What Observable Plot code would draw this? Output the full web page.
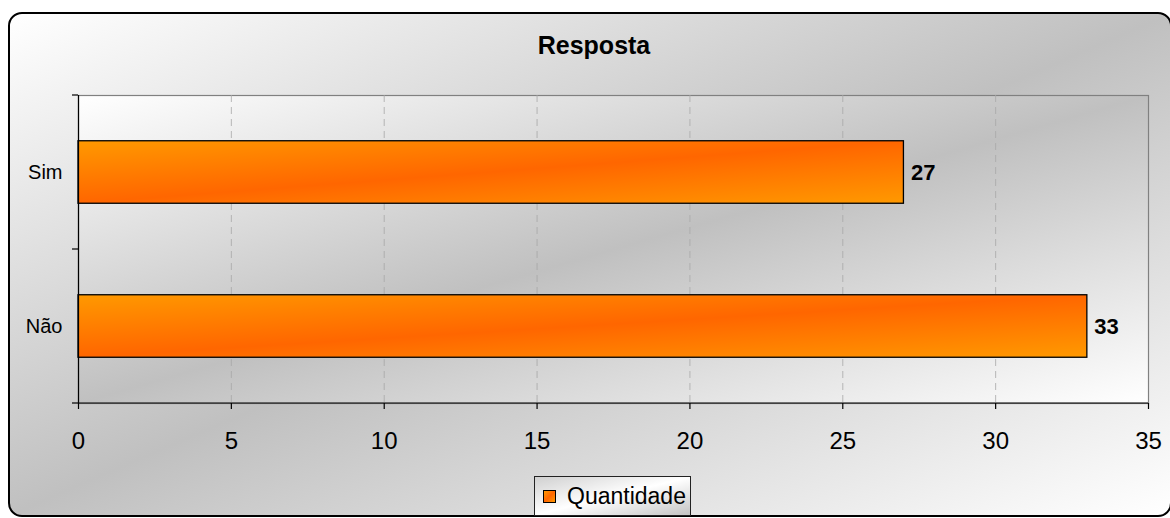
<!DOCTYPE html>
<html>
<head>
<meta charset="utf-8">
<script src="https://cdn.jsdelivr.net/npm/d3@7"></script>
<script src="https://cdn.jsdelivr.net/npm/@observablehq/plot@0.6"></script>
<style>
  body { margin: 0; background: #fff; }
  #wrap { position: relative; width: 1170px; height: 518px; overflow: hidden; font-family: "Liberation Sans", Arial, sans-serif; }
  #bg { position: absolute; left: 8px; top: 12px; width: 1164px; height: 505px; box-sizing: border-box;
        border: 2px solid #000; border-radius: 14px;
        background: linear-gradient(to bottom right, #ffffff 0%, #c0c0c0 50%, #ffffff 100%); }
  #chart { position: absolute; left: 0; top: 0; }
  #title { position: absolute; left: 594px; top: 33px; transform: translateX(-50%); font-size: 25px; line-height: 25px;
           font-weight: bold; color: #000; white-space: nowrap; }
  #legend { position: absolute; left: 534px; top: 476px; width: 157px; height: 40px; box-sizing: border-box;
            border: 1px solid #222; background: linear-gradient(to bottom right, #d0d0d0 0%, #ffffff 50%, #c4c4c4 100%);
            display: flex; align-items: center; padding-left: 8px; }
  #legend .sw { width: 13px; height: 13px; box-sizing: border-box; border: 1px solid #000;
                background: linear-gradient(to bottom right, #ff9900, #ff6600 50%, #ff9900); margin-right: 11px; }
  #legend .lab { font-size: 23px; color: #000; line-height: 23px; }
</style>
</head>
<body>
<div id="wrap">
  <div id="bg"></div>
  <div id="chart"></div>
  <div id="title"></div>
  <div id="legend"><div class="sw"></div><div class="lab"></div></div>
</div>
<script>
const chartTitle = "Resposta";
const seriesName = "Quantidade";
const categories = ["Sim", "Não"];
const values = [27, 33];
const xTicks = [0, 5, 10, 15, 20, 25, 30, 35];

const data = categories.map((c, i) => ({category: c, value: values[i]}));

document.getElementById("title").textContent = chartTitle;
document.querySelector("#legend .lab").textContent = seriesName;

// gradient definitions
function defs() {
  const d = d3.create("svg:defs");
  const g1 = d.append("linearGradient").attr("id", "plotBg")
    .attr("x1", 0).attr("y1", 0).attr("x2", 1).attr("y2", 1);
  g1.append("stop").attr("offset", "0%").attr("stop-color", "#ffffff");
  g1.append("stop").attr("offset", "50%").attr("stop-color", "#c0c0c0");
  g1.append("stop").attr("offset", "100%").attr("stop-color", "#ffffff");
  const g2 = d.append("linearGradient").attr("id", "barFill")
    .attr("x1", 0).attr("y1", 0).attr("x2", 1).attr("y2", 1);
  g2.append("stop").attr("offset", "0%").attr("stop-color", "#ff9900");
  g2.append("stop").attr("offset", "50%").attr("stop-color", "#ff6600");
  g2.append("stop").attr("offset", "100%").attr("stop-color", "#ff9900");
  return d.node();
}

// category-boundary ticks on the y axis and the bottom axis line
function yBoundaryTicks(index, scales, values, dims) {
  const ys = categories.map(c => scales.y(c));
  const step = ys.length > 1 ? ys[1] - ys[0] : (dims.height - dims.marginTop - dims.marginBottom);
  const bounds = [...ys, ys[ys.length - 1] + step];
  const x0 = scales.x(xTicks[0]);
  const x1 = scales.x(xTicks[xTicks.length - 1]);
  const g = d3.create("svg:g").attr("stroke", "#000").attr("stroke-width", 1.2);
  g.selectAll("line.t").data(bounds).join("line").attr("class", "t")
    .attr("x1", x0 - 6).attr("x2", x0).attr("y1", d => d).attr("y2", d => d);
  g.append("line").attr("x1", x0).attr("x2", x1)
    .attr("y1", bounds[bounds.length - 1]).attr("y2", bounds[bounds.length - 1]);
  return g.node();
}

const xMin = xTicks[0], xMax = xTicks[xTicks.length - 1];

const plot = Plot.plot({
  width: 1170,
  height: 518,
  marginLeft: 78,
  marginRight: 22,
  marginTop: 95,
  marginBottom: 115,
  style: {background: "transparent", color: "#000", fontFamily: "'Liberation Sans', Arial, sans-serif", overflow: "visible"},
  x: {domain: [xMin, xMax]},
  y: {domain: categories, padding: 0},
  marks: [
    defs,
    Plot.frame({fill: "url(#plotBg)", stroke: "#808080", strokeWidth: 1.2}),
    Plot.gridX(xTicks.filter(t => t > xMin && t < xMax), {stroke: "#a8a8a8", strokeOpacity: 0.8, strokeDasharray: "7,5"}),
    Plot.barX(data, {x: "value", y: "category", fill: "url(#barFill)", stroke: "#000", strokeWidth: 1.3, insetTop: 45.75, insetBottom: 45.75}),
    Plot.text(data, {x: "value", y: "category", text: d => String(d.value), textAnchor: "start", dx: 7, fontWeight: "bold", fontSize: 22, fill: "#000"}),
    Plot.ruleX([xMin], {stroke: "#000", strokeWidth: 1.2}),
    yBoundaryTicks,
    Plot.axisX({ticks: xTicks, tickSize: 6, tickPadding: 22, fontSize: 24, label: null, stroke: "#000", strokeWidth: 1.2}),
    Plot.axisY({tickSize: 0, tickPadding: 16, fontSize: 20, label: null})
  ]
});
document.getElementById("chart").appendChild(plot);
</script>
</body>
</html>
